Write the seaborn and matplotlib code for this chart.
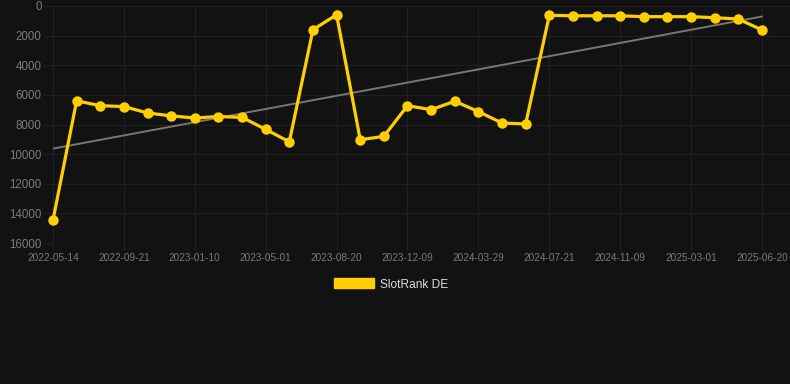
import matplotlib
matplotlib.use("Agg")
import matplotlib.pyplot as plt
from matplotlib.patches import Patch
import seaborn as sns
import pandas as pd
import numpy as np

# ---- data ----
tick_labels = ["2022-05-14", "2022-09-21", "2023-01-10", "2023-05-01", "2023-08-20",
               "2023-12-09", "2024-03-29", "2024-07-21", "2024-11-09", "2025-03-01",
               "2025-06-20"]
rank_values = [14450, 6400, 6730, 6790, 7220, 7420, 7560, 7460, 7520, 8330,
               9170, 1600, 590, 9030, 8800, 6730, 7000, 6430, 7130, 7900,
               7960, 630, 660, 660, 660, 720, 720, 720, 790, 880, 1620]
series_name = "SlotRank DE"

df = pd.DataFrame({"pos": np.arange(len(rank_values)), "rank": rank_values})

BG = "#121212"
GRID = "#212121"
YELLOW = "#FFD000"

sns.set_theme(style="dark")
plt.rcParams["font.family"] = ["Liberation Sans", "DejaVu Sans"]

fig = plt.figure(figsize=(7.9, 3.84), dpi=100, facecolor=BG)
ax = fig.add_axes([53 / 790, 1 - 243 / 384, 737 / 790, 237 / 384])
ax.set_facecolor(BG)

sns.regplot(data=df, x="pos", y="rank", ax=ax, scatter=False, ci=None,
            truncate=True, line_kws={"color": "#777777", "lw": 1.4, "zorder": 2})
sns.lineplot(data=df, x="pos", y="rank", ax=ax, color=YELLOW, lw=2.3,
             marker="o", markersize=7.5, markeredgewidth=0, zorder=3,
             clip_on=False)

ax.set_xlim(0, 30 + 28 / 23.63)
ax.set_ylim(16000, 0)
ax.set_yticks(np.arange(0, 16001, 2000))
ax.set_xticks(np.arange(0, len(rank_values), 3))
ax.set_xticklabels(tick_labels)
ax.set_xlabel("")
ax.set_ylabel("")

ax.grid(True, color=GRID, lw=0.8)
for s in ax.spines.values():
    s.set_visible(False)

ax.tick_params(axis="y", length=7.2, width=0.8, color=GRID, pad=1,
               labelsize=8.3, labelcolor="#7c7c7c", left=True)
ax.tick_params(axis="x", length=5, width=0.8, color=GRID, pad=2.5,
               labelsize=7.2, labelcolor="#7a7a7a", bottom=True)

handles = [Patch(facecolor=YELLOW, edgecolor=YELLOW, label=series_name)]
leg = fig.legend(handles=handles, loc="center", bbox_to_anchor=(391 / 790, 1 - 284.5 / 384),
                 frameon=False, fontsize=8.6, handlelength=3.3, handleheight=0.9,
                 handletextpad=0.5)
for t in leg.get_texts():
    t.set_color("#dddddd")

fig.savefig("out.png", dpi=100, facecolor=BG)
